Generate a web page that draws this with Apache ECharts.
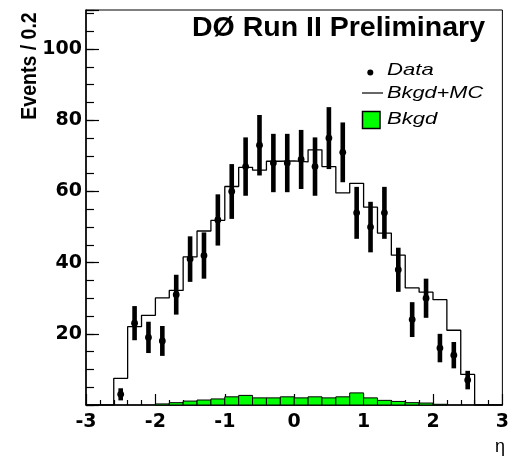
<!DOCTYPE html>
<html>
<head>
<meta charset="utf-8">
<script src="https://cdn.jsdelivr.net/npm/echarts@6/dist/echarts.min.js"></script>
<style>html,body{margin:0;padding:0;background:#fff;}#c{width:512px;height:456px;}</style>
</head>
<body>
<div id="c"></div>
<script>
// ---- data ----
const etaCenters = [-2.5,-2.3,-2.1,-1.9,-1.7,-1.5,-1.3,-1.1,-0.9,-0.7,-0.5,-0.3,-0.1,0.1,0.3,0.5,0.7,0.9,1.1,1.3,1.5,1.7,1.9,2.1,2.3,2.5];
const dataCounts = [3,23,19,18,31,41,42,52,60,67,73,68,68,69,67,75,71,54,50,54,38,24,30,16,14,7];
const dataErrors = [1.7,4.8,4.4,4.2,5.6,6.4,6.5,7.2,7.7,8.2,8.5,8.2,8.2,8.3,8.2,8.7,8.4,7.3,7.1,7.3,6.2,4.9,5.5,4.0,3.7,2.6];
const bkgdMC = [7.5,22,25.2,30.1,32.2,41.6,48.9,51.9,61.4,66.8,66.0,68.5,68.6,68.3,71.7,67.0,59.6,62.3,55.6,48.3,42.1,32.9,31.7,29.6,21.0,8.6];
const bkgd = [0,0,0,0.3,0.65,1.1,1.4,1.7,2.3,2.7,2.0,2.0,2.3,2.0,2.3,2.0,2.3,3.4,2.0,1.3,1.0,0.65,0.55,0.2,0,0];
const binWidth = 0.2;
const xRange = [-3, 3];
const yRange = [0, 111];
const yTickLabels = [20,40,60,80,100];

// ---- derived structures ----
const bkgdData = etaCenters.map((c,i)=>[c-binWidth/2, c+binWidth/2, bkgd[i]]).filter(d=>d[2]>0);
const mcLine = [[xRange[0],0]];
etaCenters.forEach((c,i)=>mcLine.push([c-binWidth/2, bkgdMC[i]]));
mcLine.push([etaCenters[etaCenters.length-1]+binWidth/2, 0]);
mcLine.push([xRange[1],0]);
const pointData = etaCenters.map((c,i)=>[c, dataCounts[i], dataErrors[i]]);

const tickFont = 'DejaVu Sans';
const chart = echarts.init(document.getElementById('c'), null, {renderer:'canvas'});
chart.setOption({
  animation:false,
  backgroundColor:'#fff',
  grid:{left:86, right:7, top:10, bottom:51, show:true, borderColor:'#000', borderWidth:1, backgroundColor:'transparent'},
  xAxis:{
    type:'value', min:xRange[0], max:xRange[1], interval:1,
    axisLine:{show:true, onZero:false, lineStyle:{color:'#000', width:1.5}},
    axisTick:{show:true, inside:true, length:11, lineStyle:{color:'#000', width:1.2}},
    minorTick:{show:true, splitNumber:5, length:5, lineStyle:{color:'#000', width:1.2}},
    splitLine:{show:false},
    axisLabel:{show:true, margin:8, color:'#000', fontFamily:tickFont, fontWeight:'bold', fontSize:19, showMinLabel:true, showMaxLabel:true}
  },
  yAxis:[{
    type:'value', min:yRange[0], max:yRange[1], interval:20, position:'left',
    axisLine:{show:true, onZero:false, lineStyle:{color:'#000', width:1.5}},
    axisTick:{show:true, inside:true, length:13, lineStyle:{color:'#000', width:1.2}},
    splitLine:{show:false},
    axisLabel:{show:true, margin:4, color:'#000', fontFamily:tickFont, fontWeight:'bold', fontSize:19,
      formatter:(v)=> yTickLabels.indexOf(v)>=0 ? String(v) : ''}
  },{
    type:'value', min:yRange[0], max:yRange[1], interval:5, position:'left', offset:0,
    axisLine:{show:false, onZero:false},
    axisTick:{show:true, inside:true, length:8, lineStyle:{color:'#000', width:1.2}},
    splitLine:{show:false},
    axisLabel:{show:false}
  }],
  series:[
    {
      name:'Bkgd', type:'custom', xAxisIndex:0, yAxisIndex:0, z:2,
      data:bkgdData,
      renderItem:(params, api)=>{
        const p0 = api.coord([api.value(0), 0]);
        const p1 = api.coord([api.value(1), api.value(2)]);
        return {type:'rect', shape:{x:p0[0], y:p1[1], width:p1[0]-p0[0], height:p0[1]-p1[1]},
          style:{fill:'#00ff00', stroke:'#000', lineWidth:1}};
      }
    },
    {
      name:'Bkgd+MC', type:'line', step:'end', data:mcLine, showSymbol:false, z:3,
      lineStyle:{color:'#000', width:1.3}
    },
    {
      name:'Data', type:'custom', z:4, data:pointData,
      renderItem:(params, api)=>{
        const x = api.value(0), y = api.value(1), e = api.value(2);
        const pc = api.coord([x, y]);
        const pl = api.coord([x, y-e]);
        const ph = api.coord([x, y+e]);
        return {type:'group', children:[
          {type:'rect', shape:{x:pc[0]-2.3, y:ph[1], width:4.6, height:pl[1]-ph[1]}, style:{fill:'#000'}},
          {type:'circle', shape:{cx:pc[0], cy:pc[1], r:3.4}, style:{fill:'#000'}}
        ]};
      }
    }
  ],
  graphic:[
    {type:'text', x:192, y:28, style:{text:'DØ Run II Preliminary', font:'bold 28.5px "Liberation Sans"', fill:'#000', align:'left', verticalAlign:'middle'}},
    {type:'circle', shape:{cx:370.3, cy:72.5, r:3}, style:{fill:'#000'}},
    {type:'text', x:387, y:70.5, scaleX:1.3, style:{text:'Data', font:'italic 17px "Liberation Sans"', fill:'#000', align:'left', verticalAlign:'middle'}},
    {type:'line', shape:{x1:362, y1:93, x2:383, y2:93}, style:{stroke:'#000', lineWidth:1.2}},
    {type:'text', x:387, y:93.5, scaleX:1.28, style:{text:'Bkgd+MC', font:'italic 17px "Liberation Sans"', fill:'#000', align:'left', verticalAlign:'middle'}},
    {type:'rect', shape:{x:362.5, y:111.5, width:17.5, height:17}, style:{fill:'#00ff00', stroke:'#000', lineWidth:1.5}},
    {type:'text', x:387, y:119, scaleX:1.3, style:{text:'Bkgd', font:'italic 17px "Liberation Sans"', fill:'#000', align:'left', verticalAlign:'middle'}},
    {type:'text', x:505, y:447, style:{text:'η', font:'18px "Liberation Sans"', fill:'#000', align:'right', verticalAlign:'middle'}},
    {type:'text', x:30, y:66, rotation:Math.PI/2, scaleY:1.15, style:{text:'Events / 0.2', font:'bold 19.5px "Liberation Sans"', fill:'#000', align:'center', verticalAlign:'middle'}}
  ]
});
</script>
</body>
</html>
